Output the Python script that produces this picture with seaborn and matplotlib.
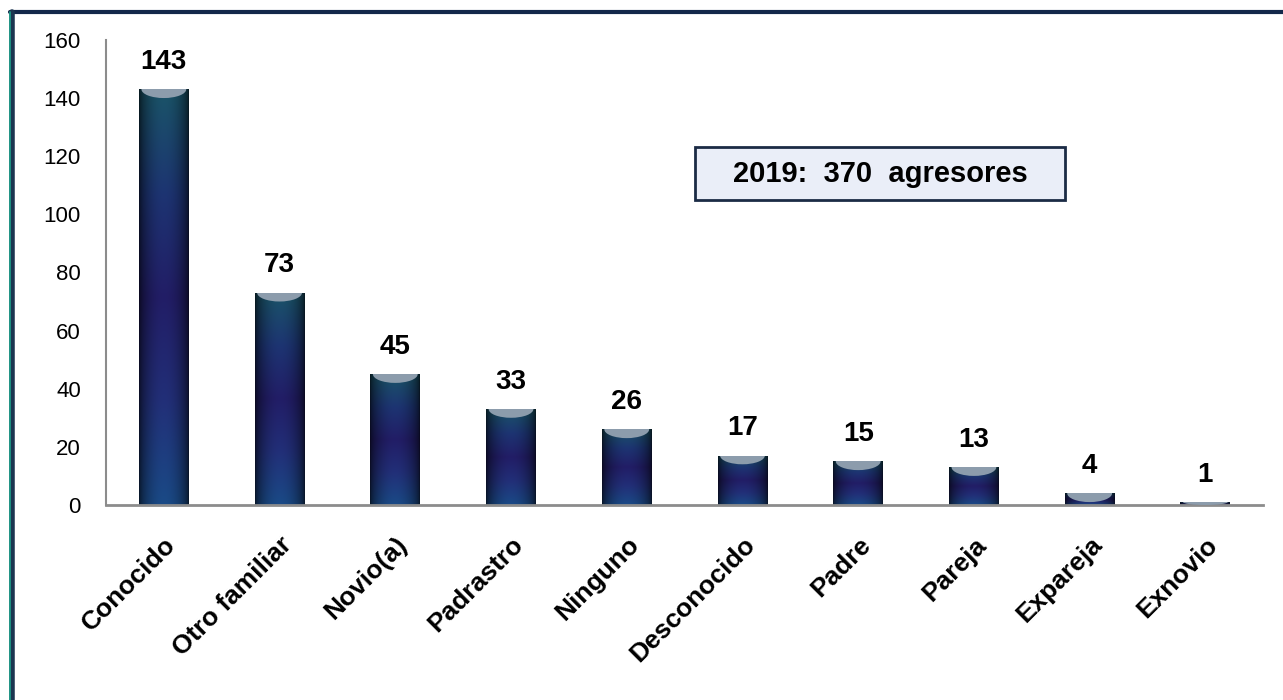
import numpy as np
import pandas as pd
import seaborn as sb
from matplotlib import pyplot as plt
from matplotlib.colors import LinearSegmentedColormap
from matplotlib.patches import Rectangle, Ellipse
from matplotlib.lines import Line2D

agresor  = ["Conocido", "Otro familiar", "Novio(a)", "Padrastro", "Ninguno",
            "Desconocido", "Padre", "Pareja", "Expareja", "Exnovio"]
cantidad = [143, 73, 45, 33, 26, 17, 15, 13, 4, 1]
y_ticks  = [0, 20, 40, 60, 80, 100, 120, 140, 160]
nota     = "2019:  370  agresores"

df = pd.DataFrame({"agresor": agresor, "cantidad": cantidad})

sb.set_style("white")
plt.rcParams["font.family"] = ["Liberation Sans", "DejaVu Sans"]
plt.rcParams["text.color"] = "black"
plt.rcParams["xtick.color"] = "black"
plt.rcParams["ytick.color"] = "black"

fig = plt.figure(figsize=(12.83, 7), dpi=100)
ax = fig.add_axes([0.0826, 0.2786, 0.902, 0.6644])

sb.barplot(data=df, x="agresor", y="cantidad", color="#1d2f6e", width=0.43, ax=ax)

# gradient fill for each bar (cylinder look)
h = np.linspace(0, 1, 64)
horiz = 0.3 + 0.7 * np.sin(np.pi * h) ** 0.6
vert_cols = LinearSegmentedColormap.from_list(
    "v", ["#1a4a86", "#222f78", "#221d66", "#1d3472", "#1a5468"])
v = np.linspace(0, 1, 128)
base = vert_cols(v)[:, :3]
img = base[:, None, :] * horiz[None, :, None]

for bar in ax.patches[:]:
    x0, y0 = bar.get_x(), bar.get_y()
    w, hgt = bar.get_width(), bar.get_height()
    bar.set_alpha(0)
    im = ax.imshow(img, extent=[x0, x0 + w, y0, y0 + hgt], origin="lower",
                   aspect="auto", interpolation="bilinear", zorder=2)
    im.set_clip_path(Rectangle((x0, y0), w, hgt, transform=ax.transData))
    cap_h = min(3.0, hgt)
    cap = Ellipse((x0 + w / 2, y0 + hgt), w * 0.9, cap_h * 2,
                  facecolor="#8c9cac", edgecolor="none", zorder=3)
    ax.add_patch(cap)
    cap.set_clip_path(Rectangle((x0, y0), w, hgt, transform=ax.transData))
    ax.text(x0 + w / 2, y0 + hgt + 5, f"{int(hgt)}", ha="center", va="bottom",
            fontsize=20, fontweight="bold", color="black")

ax.set_xlim(-0.5, len(agresor) - 0.5)
ax.set_ylim(0, 160)
ax.set_yticks(y_ticks)
ax.set_xlabel("")
ax.set_ylabel("")
ax.tick_params(axis="y", labelsize=16, length=0, pad=18)
ax.tick_params(axis="x", length=0, pad=20)
plt.setp(ax.get_xticklabels(), rotation=45, ha="right", rotation_mode="anchor",
         fontsize=19, fontweight="bold")

sb.despine(ax=ax, top=True, right=True)
ax.spines["left"].set_color("#8c8c8c")
ax.spines["bottom"].set_color("#8c8c8c")
ax.spines["left"].set_linewidth(1.5)
ax.spines["bottom"].set_linewidth(2)

# annotation box
bx0, by0, bw, bh = 695 / 1283, 1 - 200 / 700, 370 / 1283, 53 / 700
fig.patches.append(Rectangle((bx0, by0), bw, bh, transform=fig.transFigure,
                             facecolor="#eaeef8", edgecolor="#1b2b45", linewidth=2))
fig.text(bx0 + bw / 2, by0 + bh / 2, nota, ha="center", va="center",
         fontsize=21, fontweight="bold")

# outer frame (top and left)
fig.add_artist(Line2D([10 / 1283, 1], [1 - 12 / 700, 1 - 12 / 700],
                      transform=fig.transFigure, color="#13284a", linewidth=3))
fig.add_artist(Line2D([12 / 1283, 12 / 1283], [0, 1 - 12 / 700],
                      transform=fig.transFigure, color="#1c3550", linewidth=4))
fig.add_artist(Line2D([9.5 / 1283, 9.5 / 1283], [0, 1 - 12 / 700],
                      transform=fig.transFigure, color="#1ba08a", linewidth=1.2))

fig.savefig("out.png", dpi=100)
